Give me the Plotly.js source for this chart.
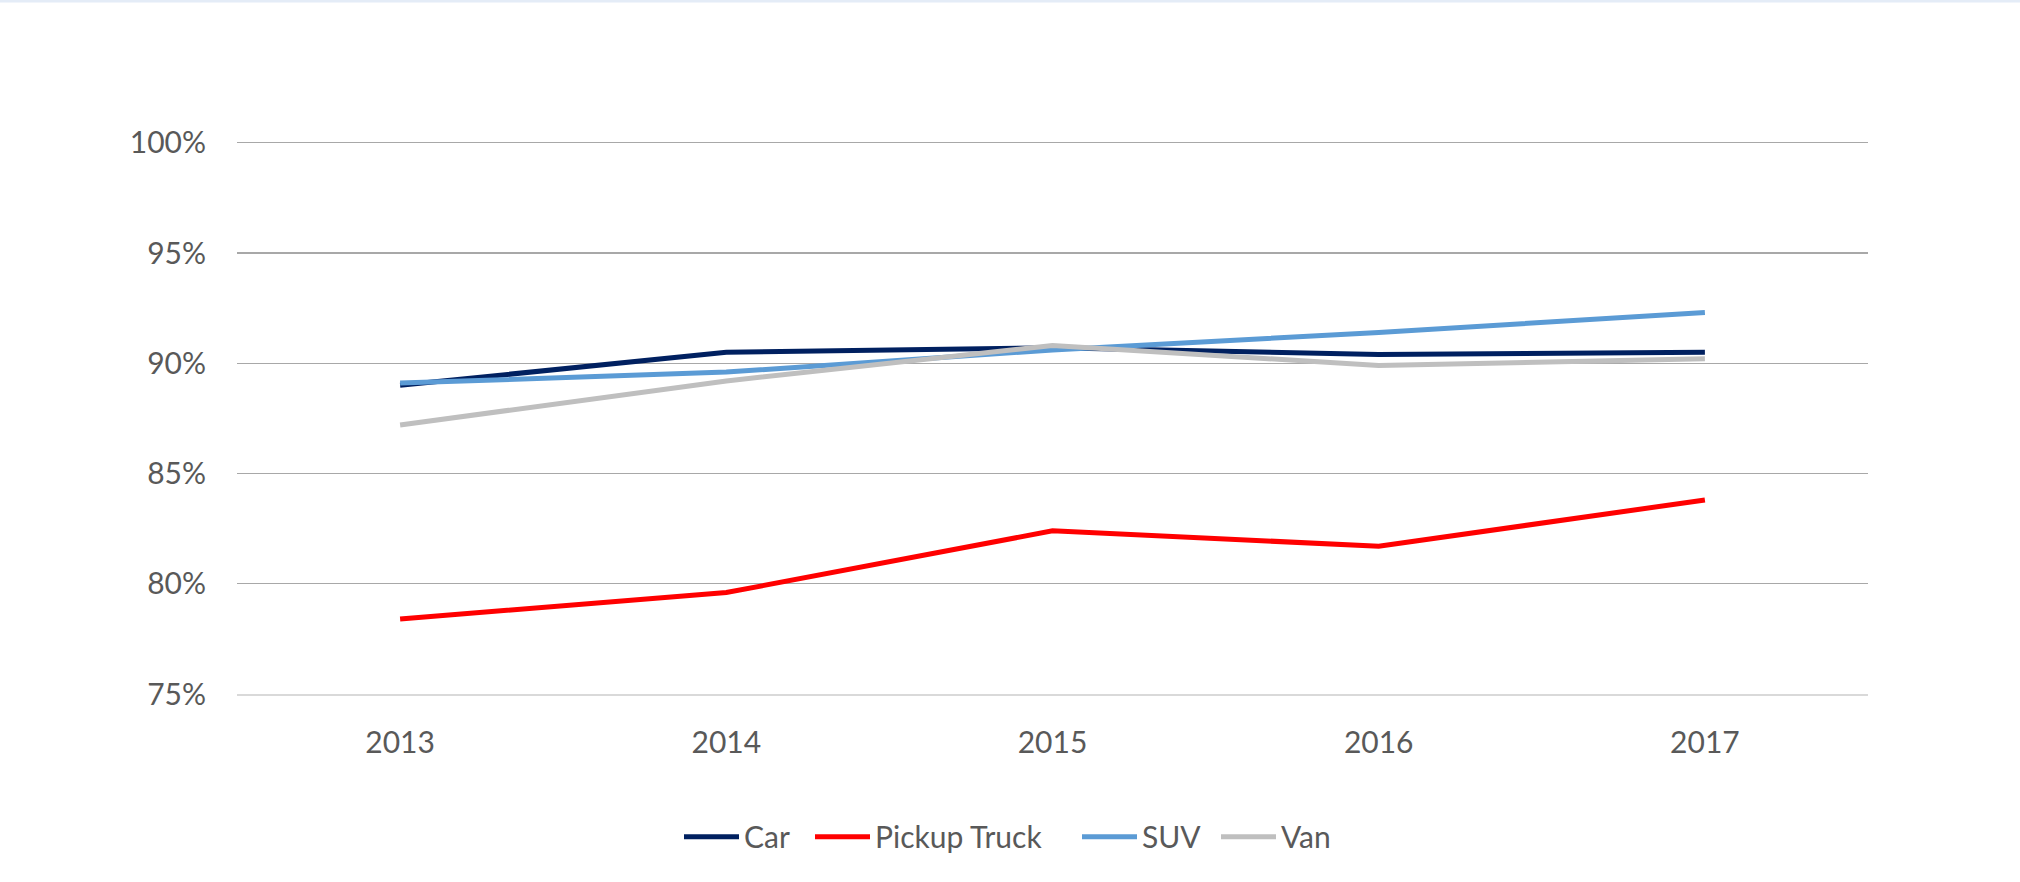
<!DOCTYPE html>
<html>
<head>
<meta charset="utf-8">
<script src="https://cdn.plot.ly/plotly-3.0.1.min.js"></script>
<style>
  html, body { margin: 0; padding: 0; background: #ffffff; }
  #chart { width: 2020px; height: 882px; }
</style>
</head>
<body>
<div id="chart"></div>
<script>
const years = ['2013', '2014', '2015', '2016', '2017'];
const car = [0.890, 0.905, 0.907, 0.904, 0.905];
const pickupTruck = [0.784, 0.796, 0.824, 0.817, 0.838];
const suv = [0.891, 0.896, 0.906, 0.914, 0.923];
const van = [0.872, 0.892, 0.908, 0.899, 0.902];
const yTicks = [0.75, 0.80, 0.85, 0.90, 0.95, 1.00];

const seriesNames = ['Car', 'Pickup Truck', 'SUV', 'Van'];
const seriesValues = [car, pickupTruck, suv, van];
const seriesColors = ['#002060', '#FF0000', '#5B9BD5', '#BFBFBF'];
const legendIds = ['legend', 'legend2', 'legend3', 'legend4'];

const traces = seriesNames.map((name, i) => ({
  type: 'scatter',
  mode: 'lines',
  name: name,
  legend: legendIds[i],
  x: years,
  y: seriesValues[i],
  line: { color: seriesColors[i], width: 5 },
  hoverinfo: 'x+y+name'
}));

const fontFamily = 'Lato, "Open Sans", sans-serif';
const textColor = '#595959';

// plot-area geometry used to place the separate legend boxes
const plotLeft = 237;
const plotWidth = 2020 - 237 - 152;
const legendLeftPx = [684, 815, 1082, 1221];

function legendBox(px) {
  return {
    orientation: 'h',
    x: (px - 5 - plotLeft) / plotWidth,
    xanchor: 'left',
    y: -0.258,
    yanchor: 'middle',
    font: { family: fontFamily, size: 30, color: textColor },
    itemwidth: 55,
    bgcolor: 'rgba(0,0,0,0)',
    borderwidth: 0
  };
}

const layout = {
  width: 2020,
  height: 882,
  margin: { l: 237, r: 152, t: 141, b: 188 },
  paper_bgcolor: '#ffffff',
  plot_bgcolor: '#ffffff',
  font: { family: fontFamily, size: 30, color: textColor },
  showlegend: true,
  legend: legendBox(legendLeftPx[0]),
  legend2: legendBox(legendLeftPx[1]),
  legend3: legendBox(legendLeftPx[2]),
  legend4: legendBox(legendLeftPx[3]),
  xaxis: {
    type: 'category',
    range: [-0.5, 4.5],
    showgrid: false,
    zeroline: false,
    showline: true,
    linecolor: '#D9D9D9',
    linewidth: 2,
    ticks: '',
    ticklabelstandoff: 21,
    tickfont: { family: fontFamily, size: 30, color: textColor },
    fixedrange: true
  },
  yaxis: {
    range: [0.75, 1.0008],
    tickvals: yTicks,
    tickformat: '.0%',
    showgrid: true,
    gridcolor: '#A8A8A8',
    gridwidth: 1.4,
    zeroline: false,
    showline: false,
    ticks: '',
    ticklabelstandoff: 30,
    tickfont: { family: fontFamily, size: 30, color: textColor },
    fixedrange: true
  },
  shapes: [{
    type: 'line',
    xref: 'paper',
    yref: 'paper',
    x0: -0.2,
    x1: 1.2,
    y0: 1 + 140 / 553,
    y1: 1 + 140 / 553,
    line: { color: '#E4ECF7', width: 3 }
  }]
};

Plotly.newPlot('chart', traces, layout, { displayModeBar: false, staticPlot: true });
</script>
</body>
</html>
